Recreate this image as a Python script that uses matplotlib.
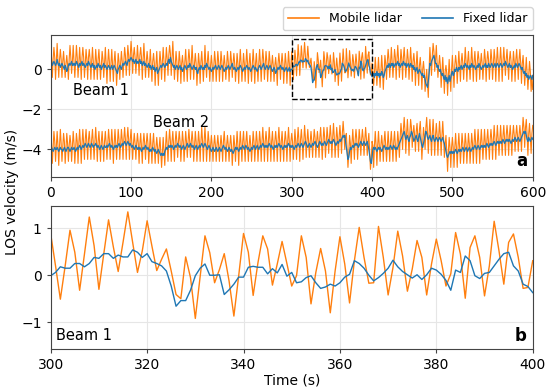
import numpy as np
import matplotlib.pyplot as plt


def parse(s):
    return np.array(s.split(), dtype=float)


# ---- zoom window 300-400 s, beam 1 (panel b, also reused in panel a) ----
time_zoom = np.arange(300, 401)
b1_mobile_zoom = parse("""
0.88 0.2 -0.51 0.2 0.96 0.49 -0.32 0.45 1.24 0.63
-0.3 0.45 1.18 0.6 0.08 0.7 1.35 0.7 0.06 0.52
1.16 0.62 0.1 0.34 0.56 0.09 -0.41 -0.5 0.39 -0.05
-0.92 -0.03 0.84 0.48 -0.16 0.12 0.46 -0.12 -0.87 -0.01
0.89 0.49 -0.43 0.27 0.84 0.56 -0.21 0.24 0.72 0.25
-0.23 -0.01 0.84 0.38 -0.61 0.06 0.57 0.09 -0.8 0.09
0.82 0.24 -0.59 0.31 1.02 0.38 -0.17 -0.16 1.04 0.38
-0.42 0.16 0.94 0.41 -0.34 0.13 0.74 0.38 -0.42 0.24
0.77 0.31 -0.23 0.03 0.91 0.45 -0.49 0.59 0.84 0.38
-0.44 0.2 1.15 0.52 -0.19 0.7 0.88 0.38 -0.28 -0.26
0.31
""")
b1_fixed_zoom = parse("""
-0.01 0.06 0.18 0.15 0.15 0.25 0.25 0.18 0.25 0.38
0.36 0.46 0.46 0.36 0.43 0.39 0.39 0.54 0.49 0.38
0.46 0.29 0.25 0.2 0.09 -0.23 -0.66 -0.54 -0.54 -0.32
-0.01 0.15 0.24 0.0 0.0 0.01 -0.41 -0.31 -0.19 -0.04
-0.04 0.17 0.19 0.17 0.17 0.03 0.14 0.05 0.23 -0.02
0.06 -0.16 -0.14 -0.05 -0.01 -0.16 -0.28 -0.25 -0.19 -0.23
-0.16 -0.04 0.02 0.31 0.25 0.15 0.0 -0.12 -0.05 0.04
0.15 0.32 0.18 0.08 0.01 -0.06 0.01 -0.09 0.01 0.15
0.11 0.02 -0.11 -0.32 0.11 0.06 0.41 0.31 -0.01 -0.07
0.04 0.06 0.2 0.34 0.46 0.49 0.2 0.09 -0.19 -0.24
-0.37
""")

# ---- beam 1, 0-299 s and 401-600 s ----
b1_fixed_early = parse("""
0.3 0.4 0.2 0.3 0.4 0.3 0.2 0.3 0.5 0.3
0.2 0.3 0.1 0.2 0.3 0.2 0.1 0.0 0.2 0.1
-0.1 0.0 0.2 0.3 0.2 0.3 0.4 0.2 0.3 0.2
0.3 0.2 0.4 0.3 0.2 0.1 0.3 0.2 0.3 0.4
0.2 0.3 0.2 0.1 0.2 0.3 0.2 0.4 0.3 0.2
0.1 0.2 0.3 0.1 0.2 0.0 0.1 0.2 0.1 0.3
0.2 0.1 0.2 0.0 0.1 0.2 0.3 0.1 0.2 0.1
0.0 0.1 0.2 0.1 0.0 0.1 0.2 0.0 0.1 0.2
0.1 0.0 -0.1 -0.2 0.0 0.1 0.2 0.1 0.0 0.2
0.3 0.2 0.3 0.4 0.3 0.2 0.4 0.5 0.4 0.5
0.6 0.5 0.4 0.5 0.3 0.4 0.5 0.3 0.4 0.3
0.4 0.5 0.3 0.4 0.2 0.3 0.4 0.2 0.3 0.2
0.1 0.2 0.3 0.1 0.2 0.0 0.1 0.2 0.0 0.1
-0.1 0.0 0.1 -0.2 -0.1 0.0 0.1 0.2 0.1 0.2
0.3 0.2 0.1 0.2 0.3 0.2 0.4 0.5 0.3 0.6
0.4 0.3 0.2 0.1 0.2 0.0 0.1 0.2 0.1 0.0
0.1 0.2 0.0 0.1 -0.1 0.0 0.1 0.2 0.1 0.0
0.1 0.2 0.1 0.3 0.2 0.1 0.0 0.1 0.2 0.1
0.0 0.1 -0.1 -0.2 0.0 0.1 0.0 0.2 0.1 0.0
0.1 0.0 0.2 0.1 0.3 0.2 0.1 0.0 0.1 0.0
-0.1 0.0 0.1 0.0 0.1 0.2 0.1 0.0 0.1 0.2
0.1 0.0 0.1 0.2 0.1 0.0 -0.1 0.0 0.1 0.0
0.1 0.2 0.1 0.0 0.1 0.2 0.3 0.1 0.0 0.1
0.0 -0.1 0.0 0.1 0.0 0.1 0.2 0.1 0.0 -0.1
0.0 0.1 0.0 0.1 0.2 0.1 0.0 0.1 0.0 -0.1
0.0 0.1 0.2 0.1 0.0 0.1 0.0 -0.1 0.0 0.1
0.2 0.1 0.0 0.1 0.2 0.3 0.1 0.0 0.1 0.2
0.1 0.0 0.1 0.2 0.1 0.0 -0.1 0.0 0.1 0.0
-0.2 -0.1 0.0 0.1 0.0 0.1 0.2 0.1 0.0 0.1
0.0 -0.1 0.0 0.1 0.0 -0.1 0.0 0.1 -0.1 0.0
""")
b1_mobile_early = parse("""
1.1 0.6 -0.4 0.5 1.1 0.6 -0.5 0.4 1.3 0.5
-0.4 0.5 1.0 0.5 -0.4 0.4 0.9 0.3 -0.4 0.3
0.7 0.2 -0.5 0.5 1.2 0.6 -0.2 0.4 1.2 0.4
-0.4 0.4 1.2 0.6 -0.4 0.3 1.1 0.4 -0.5 0.6
1.1 0.6 -0.4 0.3 1.0 0.5 -0.5 0.6 1.0 0.5
-0.5 0.4 1.1 0.4 -0.5 0.2 1.0 0.4 -0.5 0.5
1.0 0.3 -0.5 0.2 0.9 0.5 -0.4 0.3 1.1 0.3
-0.7 0.3 1.0 0.4 -0.6 0.3 1.0 0.2 -0.6 0.4
0.9 0.2 -0.8 0.0 0.8 0.4 -0.5 0.3 0.9 0.4
-0.4 0.4 1.1 0.7 -0.3 0.4 1.2 0.7 -0.3 0.7
1.4 0.8 -0.2 0.7 1.1 0.6 -0.2 0.5 1.2 0.5
-0.3 0.7 1.1 0.6 -0.5 0.5 1.3 0.4 -0.4 0.4
0.9 0.4 -0.4 0.3 1.0 0.2 -0.6 0.4 0.8 0.3
-0.8 0.2 0.9 0.1 -0.8 0.2 0.9 0.4 -0.5 0.4
1.1 0.4 -0.6 0.4 1.1 0.5 -0.3 0.7 1.2 0.8
-0.3 0.5 1.4 0.4 -0.5 0.2 0.9 0.4 -0.6 0.2
0.9 0.4 -0.7 0.3 0.7 0.2 -0.6 0.4 1.0 0.2
-0.6 0.4 1.0 0.5 -0.5 0.3 1.2 0.3 -0.5 0.3
0.8 0.3 -0.8 0.0 0.8 0.3 -0.7 0.4 0.9 0.2
-0.6 0.2 1.2 0.3 -0.4 0.4 0.9 0.2 -0.6 0.2
0.7 0.2 -0.6 0.2 0.9 0.4 -0.6 0.2 0.9 0.4
-0.6 0.2 0.9 0.4 -0.6 0.2 0.7 0.2 -0.5 0.2
0.9 0.4 -0.6 0.2 0.9 0.4 -0.4 0.3 0.8 0.3
-0.6 0.1 0.8 0.3 -0.7 0.3 1.0 0.3 -0.6 0.1
0.8 0.3 -0.6 0.3 1.0 0.3 -0.7 0.3 0.8 0.1
-0.6 0.3 1.0 0.3 -0.7 0.3 0.8 0.1 -0.6 0.3
1.0 0.3 -0.6 0.3 1.0 0.5 -0.5 0.2 0.9 0.4
-0.6 0.2 0.9 0.4 -0.6 0.2 0.7 0.2 -0.6 0.2
0.6 0.1 -0.8 0.3 0.8 0.3 -0.5 0.3 0.8 0.3
-0.7 0.1 0.8 0.3 -0.7 0.1 0.9 0.3 -0.8 0.2
""")
b1_fixed_late = parse("""
-0.3 -0.2 -0.4 -0.2 -0.3 -0.1 -0.3 -0.2 -0.4
-0.2 -0.3 -0.1 -0.2 -0.4 -0.3 -0.1 0.0 0.1 0.2
0.1 0.3 0.2 0.1 0.3 0.2 0.3 0.1 0.2 0.3
0.2 0.3 0.4 0.2 0.3 0.1 0.2 0.3 0.2 0.4
0.3 0.2 0.3 0.1 0.2 0.3 0.2 0.1 0.3 0.2
0.1 0.2 0.0 0.1 -0.1 0.0 0.1 -0.2 -0.1 0.0
-0.1 -0.2 -0.3 -0.2 -0.4 -0.3 -0.5 -0.7 -0.8 -0.9
-0.6 -0.2 0.3 0.2 0.4 0.5 0.6 0.7 0.5 0.3
0.3 0.1 0.2 0.0 -0.1 0.0 -0.2 -0.3 -0.2 -0.4
-0.5 -0.3 -0.6 -0.4 -0.7 -0.5 -0.3 -0.6 -0.4 -0.2
-0.1 -0.3 -0.2 0.0 -0.1 0.1 0.0 -0.1 0.1 0.0
0.1 0.2 0.0 0.1 0.2 0.1 0.3 0.2 0.1 0.2
0.1 0.0 0.2 0.1 0.3 0.2 0.1 0.2 0.1 0.0
0.1 0.2 0.1 0.3 0.2 0.1 0.0 0.1 0.2 0.1
0.2 0.3 0.1 0.2 0.1 0.3 0.2 0.1 0.2 0.3
0.2 0.1 0.2 0.3 0.1 0.2 0.3 0.2 0.1 0.2
0.3 0.2 0.1 0.2 0.3 0.2 0.4 0.3 0.2 0.1
0.2 0.3 0.1 0.2 0.1 0.0 0.1 0.2 0.1 0.3
0.2 0.1 0.2 0.3 0.2 0.1 0.0 0.1 -0.1 -0.2
-0.1 -0.3 -0.2 -0.4 -0.3 -0.5 -0.4 -0.3 -0.4 -0.5
-0.3
""")
b1_mobile_late = parse("""
-0.1 -0.8 -0.2 0.6 0.0 -0.8 -0.1 0.6 -0.2
-0.9 -0.1 0.7 0.0 -1.0 -0.1 0.7 0.3 -0.5 0.4
1.0 0.5 -0.4 0.3 1.1 0.4 -0.4 0.3 1.0 0.6
-0.5 0.5 1.2 0.5 -0.4 0.3 1.0 0.5 -0.5 0.6
1.1 0.4 -0.4 0.3 1.0 0.5 -0.5 0.3 1.1 0.4
-0.6 0.4 0.8 0.3 -0.8 0.2 0.9 0.0 -0.8 0.2
0.6 0.0 -1.0 0.0 0.4 -0.1 -1.1 -0.5 0.0 -0.7
-1.4 0.0 1.1 0.4 -0.3 0.7 1.3 0.9 -0.1 0.5
1.2 0.3 -0.4 0.2 0.7 0.2 -0.9 -0.1 0.6 -0.2
-1.2 -0.1 0.2 -0.2 -1.3 -0.3 0.5 -0.4 -1.1 0.0
0.7 -0.1 -0.9 0.2 0.7 0.3 -0.7 0.1 0.9 0.2
-0.6 0.4 0.8 0.3 -0.5 0.3 1.1 0.4 -0.6 0.4
0.9 0.2 -0.5 0.3 1.1 0.4 -0.6 0.4 0.9 0.2
-0.6 0.4 0.9 0.5 -0.5 0.3 0.8 0.3 -0.5 0.3
1.0 0.5 -0.6 0.4 0.9 0.5 -0.5 0.3 1.0 0.5
-0.5 0.3 1.0 0.5 -0.6 0.4 1.1 0.4 -0.6 0.4
1.1 0.4 -0.6 0.4 1.1 0.4 -0.3 0.5 1.0 0.3
-0.5 0.5 0.9 0.4 -0.6 0.2 0.9 0.4 -0.6 0.5
1.0 0.3 -0.5 0.5 1.0 0.3 -0.7 0.3 0.7 0.0
-0.8 -0.1 0.6 -0.2 -1.0 -0.3 0.4 -0.1 -1.1 -0.3
-1.0
""")

# ---- beam 2, 0-600 s ----
b2_fixed = parse("""
-4.0 -3.9 -4.0 -4.1 -4.0 -3.9 -4.0 -4.0 -3.9 -4.0
-4.1 -4.0 -3.9 -4.0 -4.0 -4.1 -4.0 -3.9 -4.0 -4.1
-4.0 -3.9 -3.9 -4.0 -4.1 -4.0 -3.9 -4.0 -4.0 -3.9
-4.0 -4.1 -4.0 -3.9 -4.0 -3.9 -3.8 -3.9 -4.0 -3.9
-3.8 -3.9 -3.8 -3.7 -3.8 -3.9 -3.8 -3.7 -3.8 -3.9
-3.8 -3.7 -3.8 -3.9 -3.8 -3.8 -3.7 -3.8 -3.9 -3.8
-3.9 -4.0 -3.9 -3.8 -3.9 -4.0 -3.9 -3.8 -3.9 -3.9
-3.8 -3.9 -3.8 -3.7 -3.8 -3.9 -3.8 -3.9 -4.0 -3.9
-3.8 -3.9 -3.8 -3.9 -3.8 -3.7 -3.8 -3.9 -3.8 -3.7
-3.8 -3.7 -3.6 -3.7 -3.8 -3.7 -3.6 -3.7 -3.8 -3.7
-3.8 -3.9 -3.8 -3.9 -4.0 -3.9 -3.8 -3.9 -4.0 -3.9
-4.0 -3.9 -4.0 -4.1 -4.0 -3.9 -4.0 -3.9 -3.8 -3.9
-4.0 -3.9 -4.0 -4.1 -4.0 -4.1 -4.0 -3.9 -4.0 -4.1
-4.0 -4.1 -4.2 -4.1 -4.0 -4.1 -4.2 -4.3 -4.2 -4.3
-4.2 -4.3 -4.1 -4.0 -3.9 -4.0 -3.9 -3.8 -3.9 -3.8
-3.9 -3.8 -3.9 -4.0 -3.9 -3.8 -3.9 -3.8 -3.7 -3.8
-3.9 -3.8 -3.9 -4.0 -3.9 -3.8 -3.9 -4.0 -3.9 -3.8
-3.7 -3.8 -3.9 -3.8 -3.7 -3.8 -3.9 -3.8 -3.9 -4.0
-3.9 -3.8 -3.9 -4.0 -3.9 -3.8 -3.9 -3.8 -3.7 -3.8
-3.9 -3.8 -3.7 -3.8 -3.9 -4.0 -3.9 -3.8 -3.9 -4.0
-4.1 -4.0 -3.9 -4.0 -4.1 -4.0 -3.9 -4.0 -4.1 -4.0
-3.9 -4.0 -4.1 -4.0 -3.9 -3.8 -3.9 -4.0 -3.9 -4.0
-4.1 -4.0 -3.9 -4.0 -4.1 -4.0 -4.1 -4.2 -4.1 -4.0
-3.9 -4.0 -3.9 -4.0 -4.1 -4.0 -3.9 -4.0 -3.9 -3.8
-3.9 -4.0 -3.9 -3.8 -3.9 -4.0 -3.9 -4.0 -4.1 -4.0
-3.9 -4.0 -3.9 -3.8 -3.9 -4.0 -3.9 -3.8 -3.9 -4.0
-3.9 -3.8 -3.9 -3.8 -3.7 -3.8 -3.9 -3.8 -3.9 -3.8
-3.9 -3.8 -3.7 -3.8 -3.9 -3.8 -3.9 -4.0 -3.9 -3.8
-3.9 -3.8 -3.9 -3.8 -3.7 -3.8 -3.9 -3.8 -3.9 -4.0
-3.9 -3.8 -3.9 -3.8 -3.9 -3.8 -3.7 -3.8 -3.9 -3.8
-3.9 -3.8 -3.9 -4.0 -3.9 -3.8 -3.9 -3.8 -3.7 -3.8
-3.9 -3.8 -3.7 -3.8 -3.9 -3.8 -3.7 -3.6 -3.7 -3.8
-3.9 -3.8 -3.7 -3.8 -3.9 -3.8 -3.7 -3.8 -3.7 -3.6
-3.7 -3.8 -3.9 -3.8 -3.7 -3.6 -3.7 -3.8 -3.7 -3.8
-3.7 -3.6 -3.7 -3.8 -3.7 -3.6 -3.5 -3.6 -3.7 -3.6
-3.7 -3.6 -3.5 -3.6 -3.7 -3.8 -3.7 -3.6 -3.7 -3.6
-3.5 -3.6 -3.5 -3.4 -3.3 -3.4 -3.3 -3.6 -3.9 -4.2
-4.5 -4.4 -4.1 -3.9 -4.0 -3.9 -3.8 -3.9 -3.8 -3.7
-3.8 -3.7 -3.8 -3.9 -3.8 -3.7 -3.6 -3.7 -3.8 -3.7
-3.6 -3.7 -3.8 -3.7 -3.6 -3.8 -4.0 -4.3 -4.6 -4.7
-4.4 -4.0 -3.9 -4.0 -3.9 -4.0 -4.1 -4.0 -3.9 -4.0
-3.9 -4.0 -4.1 -4.0 -3.9 -3.8 -3.9 -4.0 -3.9 -4.0
-3.9 -4.0 -3.9 -3.8 -3.9 -4.0 -3.9 -3.8 -3.9 -4.0
-3.9 -4.0 -3.9 -3.8 -3.7 -3.6 -3.5 -3.4 -3.3 -3.2
-3.1 -3.3 -3.5 -3.4 -3.3 -3.5 -3.6 -3.4 -3.3 -3.1
-3.2 -3.4 -3.6 -3.5 -3.4 -3.3 -3.5 -3.6 -3.4 -3.2
-3.4 -3.6 -3.8 -3.9 -3.7 -3.5 -3.3 -3.1 -3.2 -3.4
-3.5 -3.4 -3.3 -3.5 -3.6 -3.4 -3.3 -3.5 -3.6 -3.5
-3.4 -3.5 -3.6 -3.5 -3.4 -3.5 -3.6 -3.5 -3.4 -3.6
-3.7 -3.9 -4.1 -4.3 -4.4 -4.3 -4.2 -4.1 -4.2 -4.1
-4.2 -4.1 -4.2 -4.1 -4.0 -4.1 -4.2 -4.1 -4.0 -4.1
-4.0 -4.1 -4.0 -3.9 -4.0 -4.1 -4.0 -3.9 -4.0 -4.1
-4.0 -3.9 -4.0 -4.1 -4.0 -3.9 -4.0 -3.9 -3.8 -3.9
-4.0 -3.9 -3.8 -3.9 -4.0 -3.9 -3.8 -3.9 -3.8 -3.9
-3.8 -3.9 -3.8 -3.7 -3.8 -3.9 -3.8 -3.7 -3.8 -3.7
-3.8 -3.7 -3.6 -3.7 -3.8 -3.7 -3.6 -3.7 -3.6 -3.7
-3.6 -3.7 -3.6 -3.5 -3.6 -3.7 -3.6 -3.5 -3.6 -3.5
-3.6 -3.5 -3.6 -3.7 -3.6 -3.5 -3.6 -3.5 -3.4 -3.5
-3.6 -3.5 -3.4 -3.5 -3.6 -3.5 -3.4 -3.3 -3.2 -3.1
-3.2 -3.1 -3.3 -3.5 -3.6 -3.4 -3.5 -3.6 -3.5 -3.4
-3.5
""")
b2_mobile = parse("""
-3.2 -3.7 -4.7 -3.9 -3.1 -3.6 -4.6 -3.8 -3.1 -3.8
-4.8 -3.8 -3.0 -3.7 -4.6 -3.9 -3.2 -3.6 -4.7 -3.9
-3.2 -3.7 -4.6 -3.8 -3.3 -3.7 -4.6 -3.8 -3.1 -3.7
-4.7 -3.9 -3.2 -3.6 -4.7 -3.7 -3.0 -3.7 -4.7 -3.7
-3.0 -3.7 -4.5 -3.5 -3.0 -3.7 -4.5 -3.5 -3.1 -3.7
-4.5 -3.5 -3.0 -3.7 -4.5 -3.6 -2.9 -3.6 -4.6 -3.6
-3.1 -3.8 -4.6 -3.6 -3.1 -3.8 -4.6 -3.6 -3.1 -3.7
-4.5 -3.7 -3.0 -3.5 -4.5 -3.7 -3.0 -3.7 -4.7 -3.7
-3.0 -3.7 -4.5 -3.7 -3.0 -3.5 -4.5 -3.7 -3.0 -3.5
-4.5 -3.5 -2.9 -3.5 -4.5 -3.5 -2.9 -3.5 -4.5 -3.5
-3.0 -3.7 -4.5 -3.7 -3.2 -3.7 -4.5 -3.7 -3.2 -3.7
-4.7 -3.7 -3.2 -3.9 -4.7 -3.7 -3.2 -3.7 -4.5 -3.7
-3.2 -3.7 -4.7 -3.9 -3.2 -3.9 -4.7 -3.7 -3.2 -3.9
-4.7 -3.9 -3.4 -3.9 -4.7 -3.9 -3.4 -4.1 -4.9 -4.1
-3.4 -4.1 -4.8 -3.8 -3.1 -3.8 -4.6 -3.6 -3.0 -3.6
-4.6 -3.6 -3.1 -3.8 -4.6 -3.6 -3.1 -3.6 -4.4 -3.6
-3.1 -3.6 -4.6 -3.8 -3.1 -3.6 -4.6 -3.8 -3.1 -3.6
-4.4 -3.6 -3.0 -3.6 -4.4 -3.6 -3.1 -3.6 -4.6 -3.8
-3.1 -3.6 -4.6 -3.8 -3.1 -3.6 -4.6 -3.6 -2.9 -3.6
-4.6 -3.6 -2.9 -3.6 -4.6 -3.8 -3.1 -3.6 -4.6 -3.8
-3.3 -3.8 -4.6 -3.8 -3.3 -3.8 -4.6 -3.8 -3.3 -3.8
-4.6 -3.8 -3.3 -3.8 -4.6 -3.6 -3.1 -3.8 -4.6 -3.8
-3.3 -3.8 -4.6 -3.8 -3.3 -3.8 -4.8 -4.0 -3.3 -3.8
-4.6 -3.8 -3.1 -3.8 -4.8 -3.8 -3.1 -3.8 -4.6 -3.6
-3.1 -3.8 -4.6 -3.6 -3.1 -3.8 -4.6 -3.8 -3.3 -3.8
-4.6 -3.8 -3.1 -3.6 -4.6 -3.8 -3.1 -3.6 -4.6 -3.8
-3.1 -3.6 -4.6 -3.6 -2.9 -3.6 -4.6 -3.6 -3.1 -3.6
-4.6 -3.6 -2.9 -3.6 -4.6 -3.6 -3.1 -3.8 -4.6 -3.6
-3.1 -3.6 -4.6 -3.6 -2.9 -3.6 -4.6 -3.6 -3.1 -3.8
-4.6 -3.6 -3.1 -3.6 -4.6 -3.6 -2.9 -3.6 -4.6 -3.6
-3.2 -3.6 -4.5 -3.8 -3.0 -3.6 -4.5 -3.5 -2.9 -3.6
-4.6 -3.5 -3.0 -3.6 -4.5 -3.6 -2.8 -3.4 -4.4 -3.6
-3.0 -3.6 -4.4 -3.6 -3.1 -3.6 -4.4 -3.6 -3.0 -3.4
-4.4 -3.6 -3.1 -3.6 -4.4 -3.4 -2.9 -3.6 -4.5 -3.6
-2.9 -3.4 -4.4 -3.6 -2.9 -3.4 -4.2 -3.4 -2.8 -3.4
-4.4 -3.4 -2.7 -3.4 -4.4 -3.6 -2.9 -3.4 -4.4 -3.4
-2.8 -3.4 -4.2 -3.2 -2.6 -3.2 -4.0 -3.4 -3.2 -4.0
-4.9 -4.2 -3.3 -3.7 -4.7 -3.7 -3.0 -3.7 -4.5 -3.5
-3.0 -3.5 -4.5 -3.7 -3.0 -3.5 -4.3 -3.5 -3.0 -3.5
-4.3 -3.5 -2.9 -3.5 -4.3 -3.6 -3.2 -4.1 -5.0 -4.5
-3.6 -3.8 -4.9 -3.8 -3.1 -3.8 -4.8 -3.8 -3.1 -3.8
-4.6 -3.8 -3.3 -3.8 -4.6 -3.6 -3.1 -3.8 -4.6 -3.8
-3.1 -3.8 -4.6 -3.6 -3.1 -3.8 -4.6 -3.6 -3.1 -3.8
-4.6 -3.8 -3.1 -3.6 -4.4 -3.4 -2.7 -3.2 -4.0 -3.0
-2.4 -3.1 -4.2 -3.2 -2.5 -3.3 -4.3 -3.2 -2.5 -2.9
-3.9 -3.2 -2.8 -3.3 -4.1 -3.1 -2.7 -3.4 -4.1 -3.0
-2.6 -3.4 -4.5 -3.7 -2.9 -3.3 -4.0 -2.9 -2.4 -3.2
-4.2 -3.2 -2.5 -3.3 -4.3 -3.2 -2.5 -3.3 -4.3 -3.3
-2.7 -3.3 -4.3 -3.3 -2.6 -3.3 -4.3 -3.3 -2.6 -3.4
-4.4 -3.7 -3.3 -4.1 -5.1 -4.1 -3.4 -3.9 -4.9 -3.9
-3.4 -3.9 -4.9 -3.9 -3.2 -3.9 -4.9 -3.9 -3.2 -3.9
-4.7 -3.9 -3.2 -3.7 -4.7 -3.9 -3.2 -3.7 -4.7 -3.9
-3.2 -3.7 -4.7 -3.9 -3.2 -3.7 -4.7 -3.7 -3.0 -3.7
-4.7 -3.7 -3.0 -3.7 -4.7 -3.7 -3.0 -3.7 -4.5 -3.7
-3.0 -3.7 -4.5 -3.5 -3.0 -3.7 -4.5 -3.5 -3.0 -3.5
-4.5 -3.5 -2.8 -3.5 -4.5 -3.5 -2.8 -3.5 -4.3 -3.5
-2.8 -3.5 -4.3 -3.3 -2.8 -3.5 -4.3 -3.3 -2.8 -3.3
-4.3 -3.3 -2.8 -3.5 -4.3 -3.3 -2.8 -3.3 -4.1 -3.3
-2.8 -3.3 -4.1 -3.3 -2.8 -3.3 -4.1 -3.1 -2.4 -2.9
-3.9 -2.9 -2.5 -3.3 -4.3 -3.2 -2.7 -3.4 -4.2 -3.2
-2.8
""")

time_full = np.arange(0, 601)
b1_fixed = np.concatenate([b1_fixed_early, b1_fixed_zoom, b1_fixed_late])
b1_mobile = np.concatenate([b1_mobile_early, b1_mobile_zoom, b1_mobile_late])

orange = '#ff7f0e'
blue = '#1f77b4'

plt.rcParams['font.family'] = 'DejaVu Sans'
fig = plt.figure(figsize=(5.5, 3.89), dpi=100)
ax1 = fig.add_axes([0.0922, 0.545, 0.8764, 0.365])
ax2 = fig.add_axes([0.0922, 0.103, 0.8764, 0.368])

# panel a
ax1.plot(time_full, b1_mobile, color=orange, lw=0.8, label='Mobile lidar')
ax1.plot(time_full, b1_fixed, color=blue, lw=0.9, label='Fixed lidar')
ax1.plot(time_full, b2_mobile, color=orange, lw=0.8)
ax1.plot(time_full, b2_fixed, color=blue, lw=0.9)
ax1.plot([300, 400, 400, 300, 300], [-1.5, -1.5, 1.5, 1.5, -1.5],
         'k--', lw=1.0)
ax1.set_xlim(0, 600)
ax1.set_ylim(-5.38, 1.72)
ax1.set_xticks(np.arange(0, 601, 100))
ax1.set_yticks([-4, -2, 0])
ax1.text(28, -1.05, 'Beam 1', fontsize=10.5, va='center')
ax1.text(127, -2.65, 'Beam 2', fontsize=10.5, va='center')
ax1.text(0.988, 0.05, 'a', transform=ax1.transAxes, fontsize=12,
         fontweight='bold', ha='right', va='bottom')
leg = ax1.legend(loc='lower right', bbox_to_anchor=(1.0, 1.035), ncol=2,
                 fontsize=9, borderaxespad=0, handlelength=2.5,
                 columnspacing=1.6, frameon=True)
for line in leg.get_lines():
    line.set_linewidth(1.2)

# panel b
ax2.plot(time_zoom, b1_mobile_zoom, color=orange, lw=1.0)
ax2.plot(time_zoom, b1_fixed_zoom, color=blue, lw=1.0)
ax2.set_xlim(300, 400)
ax2.set_ylim(-1.57, 1.48)
ax2.set_xticks(np.arange(300, 401, 20))
ax2.set_yticks([-1, 0, 1])
ax2.text(0.012, 0.04, 'Beam 1', transform=ax2.transAxes, fontsize=10.5,
         ha='left', va='bottom')
ax2.text(0.988, 0.03, 'b', transform=ax2.transAxes, fontsize=12,
         fontweight='bold', ha='right', va='bottom')
ax2.set_xlabel('Time (s)', fontsize=10, labelpad=1)

for ax in (ax1, ax2):
    ax.grid(True, color='#e6e6e6', lw=0.8)
    ax.set_axisbelow(True)
    ax.tick_params(labelsize=10, length=3, color='#444444')
    for sp in ax.spines.values():
        sp.set_color('#444444')

fig.text(0.022, 0.506, 'LOS velocity (m/s)', rotation=90, fontsize=10,
         ha='center', va='center')

fig.savefig('out.png', dpi=100)
